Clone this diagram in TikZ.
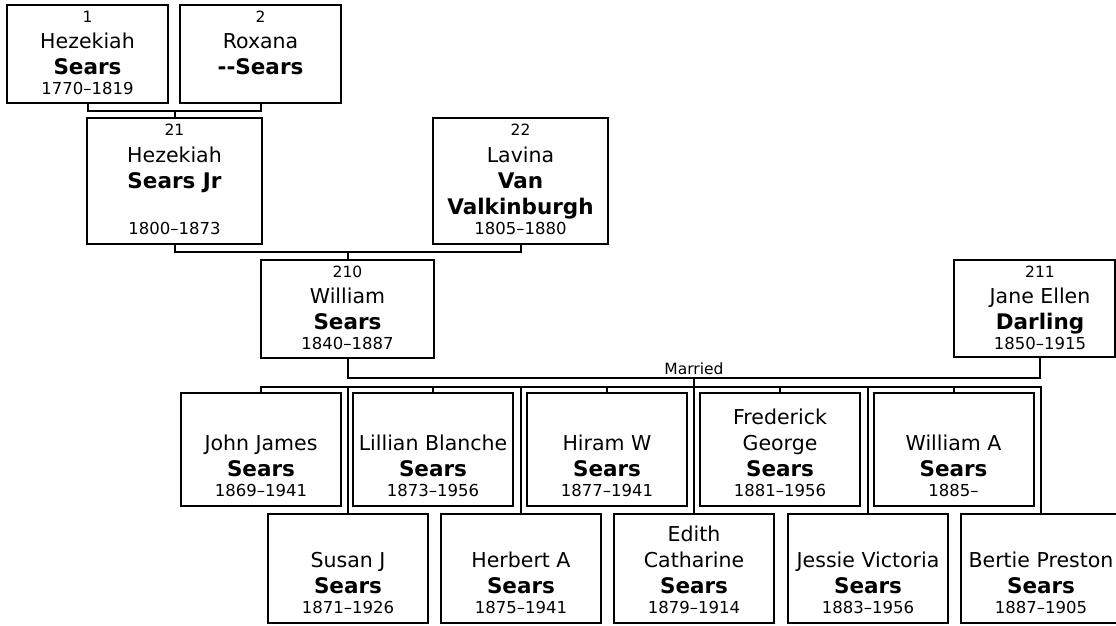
\documentclass[tikz,border=0pt]{standalone}
\usepackage{fontspec}
\setmainfont{DejaVu Sans}
\newdimen\famoff \famoff=0pt
\newcommand\famln[2]{\hbox to \hsize{\hss\kern\famoff\smash{#1#2}\hss}}
\newcommand\fnum[1]{\kern17pt\famln{\fontsize{15.5}{18}\selectfont}{#1}\vfill}
\newcommand\fnm[1]{\kern26pt\famln{\fontsize{20.5}{24}\selectfont}{#1}}
\newcommand\fsn[1]{\kern26pt\famln{\fontsize{21.5}{24}\selectfont\bfseries}{#1}}
\newcommand\fyr[1]{\kern20pt\famln{\fontsize{16.5}{19}\selectfont}{#1}\kern10pt}
\newcommand\fbody[3]{\vbox to #2{\hsize=#1\offinterlineskip\parindent=0pt #3}}
\begin{document}
\begin{tikzpicture}[x=1pt,y=-1pt,
  box/.style={draw=black, line width=2pt, inner sep=0pt, fill=white},
  conn/.style={draw=black, line width=2pt},
  lbl/.style={font=\fontsize{15.5}{18}\selectfont, inner sep=0pt}]
\useasboundingbox (0,0) rectangle (1116,625);
\clip (0,0) rectangle (1116,625);
% generation 0
\node[box] (p1) at (87.5,54) {\fbody{161pt}{98pt}{\fnum{1}\fnm{Hezekiah}\fsn{Sears}\fyr{1770–1819}}};
\node[box] (p2) at (260.5,54) {\fbody{161pt}{98pt}{\fnum{2}\fnm{Roxana}\fsn{{-}{-}Sears}\fyr{}}};
% generation 1
\node[box] (p21) at (174.5,181) {\fbody{175pt}{126pt}{\fnum{21}\fnm{Hezekiah}\fsn{Sears Jr}\fsn{}\fyr{1800–1873}}};
\node[box] (p22) at (520.5,181) {\fbody{175pt}{126pt}{\fnum{22}\fnm{Lavina}\fsn{Van}\fsn{Valkinburgh}\fyr{1805–1880}}};
% generation 2
\node[box] (p210) at (347.5,309) {\fbody{173pt}{98pt}{\fnum{210}\fnm{William}\fsn{Sears}\fyr{1840–1887}}};
\node[box] (p211) at (1034.5,308.5) {\famoff=11pt\fbody{161pt}{97pt}{\fnum{211}\fnm{Jane Ellen}\fsn{Darling}\fyr{1850–1915}}};
% children, upper row
\node[box] (jj) at (261,449.5) {\fbody{160pt}{113pt}{\vfill\fnm{John James}\fsn{Sears}\fyr{1869–1941}}};
\node[box] (lb) at (433,449.5) {\fbody{160pt}{113pt}{\vfill\fnm{Lillian Blanche}\fsn{Sears}\fyr{1873–1956}}};
\node[box] (hw) at (607,449.5) {\fbody{160pt}{113pt}{\vfill\fnm{Hiram W}\fsn{Sears}\fyr{1877–1941}}};
\node[box] (fg) at (780,449.5) {\fbody{160pt}{113pt}{\vfill\fnm{Frederick}\fnm{George}\fsn{Sears}\fyr{1881–1956}}};
\node[box] (wa) at (953.5,449.5) {\fbody{160pt}{113pt}{\vfill\fnm{William A}\fsn{Sears}\fyr{1885–}}};
% children, lower row
\node[box] (sj) at (348,568.5) {\fbody{160pt}{109pt}{\vfill\fnm{Susan J}\fsn{Sears}\fyr{1871–1926}}};
\node[box] (ha) at (521,568.5) {\fbody{160pt}{109pt}{\vfill\fnm{Herbert A}\fsn{Sears}\fyr{1875–1941}}};
\node[box] (ec) at (694,568.5) {\fbody{160pt}{109pt}{\vfill\fnm{Edith}\fnm{Catharine}\fsn{Sears}\fyr{1879–1914}}};
\node[box] (jv) at (868,568.5) {\fbody{160pt}{109pt}{\vfill\fnm{Jessie Victoria}\fsn{Sears}\fyr{1883–1956}}};
\node[box] (bp) at (1041,568.5) {\fbody{160pt}{109pt}{\vfill\fnm{Bertie Preston}\fsn{Sears}\fyr{1887–1905}}};
% couple connectors
\coordinate (c1) at (174.5,111);
\draw[conn] (p1.south) |- (c1) -| (p2.south);
\draw[conn] (c1) -- (p21.north);
\coordinate (c2) at (347.5,252);
\draw[conn] (p21.south) |- (c2) -| (p22.south);
\draw[conn] (c2) -- (p210.north);
\coordinate (c3) at (694,378);
\coordinate (jt) at ([xshift=5.5]p211.south);
\draw[conn] (p210.south) |- (c3) -| (jt);
\node[lbl, anchor=base] (mar) at (694,374) {Married};
% sibling line
\coordinate (s) at (694,387);
\draw[conn] (c3) -- (ec.north);
\draw[conn] (jj.north) |- (s) -| (bp.north);
\foreach \n in {lb,hw,fg,wa,sj,ha,jv} \draw[conn] (\n.north) -- (\n.north |- s);
\end{tikzpicture}
\end{document}
